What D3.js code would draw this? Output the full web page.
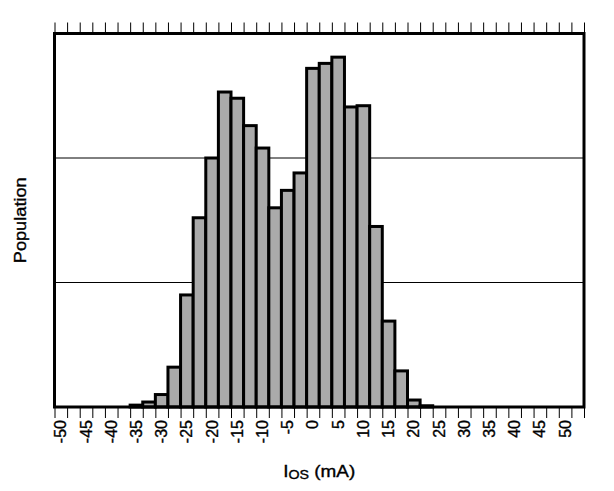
<!DOCTYPE html>
<html>
<head>
<meta charset="utf-8">
<script src="https://cdn.jsdelivr.net/npm/d3@7"></script>
<style>
  body { margin: 0; background: #fff; }
  svg { display: block; font-family: "Liberation Sans", Arial, sans-serif; }
  .grid { stroke: #000; stroke-width: 1; }
  .bar { fill: #aaaaaa; stroke: #000; stroke-width: 3; }
  .frame { fill: none; stroke: #000; stroke-width: 3; }
  .tick line { stroke: #000; stroke-width: 1; }
  .domain { display: none; }
  .lbl { fill: #000; stroke: #000; stroke-width: 0.35; }
</style>
</head>
<body>
<svg id="chart" width="614" height="491"></svg>
<script>
// histogram bins (mA), one band each
const bins = [-50, -47.5, -45, -42.5, -40, -37.5, -35, -32.5, -30, -27.5,
  -25, -22.5, -20, -17.5, -15, -12.5, -10, -7.5, -5, -2.5,
  0, 2.5, 5, 7.5, 10, 12.5, 15, 17.5, 20, 22.5,
  25, 27.5, 30, 32.5, 35, 37.5, 40, 42.5, 45, 47.5, 50, 52.5];

// relative population per bin (grid line = 1 unit)
const population = [0, 0, 0, 0, 0, 0, 0.015, 0.04, 0.1, 0.32,
  0.9, 1.52, 2.0, 2.53, 2.48, 2.26, 2.08, 1.6, 1.74, 1.88,
  2.72, 2.76, 2.81, 2.41, 2.42, 1.45, 0.69, 0.29, 0.056, 0.01,
  0, 0, 0, 0, 0, 0, 0, 0, 0, 0, 0, 0];

const tickLabels = ["-50", "-45", "-40", "-35", "-30", "-25", "-20", "-15", "-10", "-5",
  "0", "5", "10", "15", "20", "25", "30", "35", "40", "45", "50"];

const gridValues = [1, 2];

(function () {
const svg = d3.select("#chart");
const left = 54.5, right = 584, plotTop = 33.5, plotBottom = 407;

const x = d3.scaleBand().domain(bins).range([left, right]).padding(0);
const edge = d3.scaleLinear().domain([0, bins.length]).range([left, right]);
const y = d3.scaleLinear().domain([0, 3]).range([plotBottom, plotTop]);

// grid lines
svg.append("g").selectAll("line").data(gridValues).join("line")
  .attr("class", "grid")
  .attr("x1", left).attr("x2", right)
  .attr("y1", d => y(d)).attr("y2", d => y(d));

// bars
const data = bins.map((b, i) => ({ bin: b, v: population[i] })).filter(d => d.v > 0);
svg.append("g").selectAll("rect").data(data).join("rect")
  .attr("class", "bar")
  .attr("x", d => x(d.bin))
  .attr("width", x.bandwidth())
  .attr("y", d => y(d.v))
  .attr("height", d => plotBottom - y(d.v));

// tick marks at bin edges, top and bottom
const edges = d3.range(bins.length + 1);
svg.append("g").attr("transform", `translate(0,${plotTop})`)
  .call(d3.axisTop(edge).tickValues(edges).tickFormat("").tickSize(11).tickSizeOuter(0));
svg.append("g").attr("transform", `translate(0,${plotBottom})`)
  .call(d3.axisBottom(edge).tickValues(edges).tickFormat("").tickSize(11).tickSizeOuter(0));

// frame
svg.append("rect").attr("class", "frame")
  .attr("x", left).attr("y", plotTop)
  .attr("width", right - left).attr("height", plotBottom - plotTop);

// tick labels, rotated, centred on their bin
const labelled = bins.filter((b, i) => i % 2 === 0 && i / 2 < tickLabels.length);
const xa = svg.append("g").attr("transform", `translate(0,${plotBottom})`)
  .call(d3.axisBottom(x).tickValues(labelled).tickFormat((d, i) => tickLabels[i]).tickSize(0));
xa.selectAll("text")
  .attr("class", "lbl")
  .attr("font-size", 16)
  .attr("font-family", "Liberation Sans, Arial, sans-serif")
  .attr("text-anchor", "end")
  .attr("dy", null)
  .attr("y", null)
  .attr("dominant-baseline", "central")
  .attr("transform", "translate(0,13) rotate(-90)");

// axis titles
svg.append("text")
  .attr("class", "lbl")
  .attr("transform", `translate(20,${(plotTop + plotBottom) / 2}) rotate(-90)`)
  .attr("text-anchor", "middle")
  .attr("dominant-baseline", "central")
  .attr("font-size", 16)
  .attr("textLength", 86)
  .attr("lengthAdjust", "spacingAndGlyphs")
  .text("Population");

const xt = svg.append("text")
  .attr("class", "lbl")
  .attr("x", (left + right) / 2)
  .attr("y", 476.5)
  .attr("text-anchor", "middle")
  .attr("font-size", 16)
  .attr("textLength", 72)
  .attr("lengthAdjust", "spacingAndGlyphs");
xt.append("tspan").text("I");
xt.append("tspan").attr("font-size", 12).attr("dy", 2).text("OS");
xt.append("tspan").attr("dy", -2).text(" (mA)");
})();
</script>
</body>
</html>
